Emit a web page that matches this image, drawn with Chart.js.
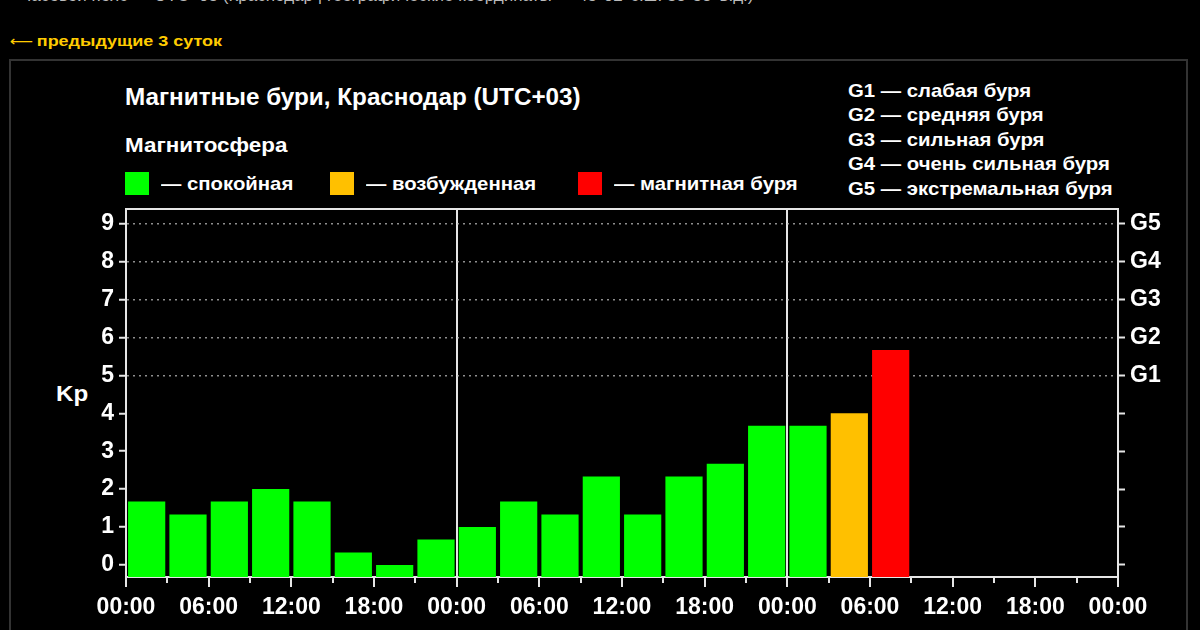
<!DOCTYPE html>
<html lang="ru">
  <head>
    <meta charset="UTF-8" />
    <title>Магнитные бури, Краснодар</title>
    <script src="https://cdn.jsdelivr.net/npm/chart.js"></script>
    <style>
      body {
        margin: 0;
        width: 1200px;
        height: 630px;
        overflow: hidden;
        position: relative;
        background: #000;
        color: #fff;
        font-family: "Liberation Sans", Arial, sans-serif;
        font-weight: bold;
      }
      .abs { position: absolute; line-height: 1; white-space: nowrap; transform-origin: left top; }
      .cut { left: 20px; top: -13px; font-size: 17px; color: #bbb; font-weight: normal; }
      .prev { left: 10px; top: 33px; font-size: 15.5px; color: #ffcc00; transform: scaleX(1.16); }
      .prev .arr { font-family: "DejaVu Sans", sans-serif; font-weight: normal; font-size: 14px; margin-right: 3px; }
      .box {
        position: absolute;
        left: 9px;
        top: 59px;
        width: 1175px;
        height: 620px;
        border: 2px solid #333;
      }
      .title { left: 125px; top: 86px; font-size: 23px; transform: scaleX(1.055); }
      .sub { left: 125px; top: 135px; font-size: 20px; transform: scaleX(1.12); }
      .leg { top: 172px; height: 23px; display: flex; align-items: center; font-size: 19px; }
      .leg span.t { display: inline-block; transform: scaleX(1.07); transform-origin: left center; }
      .sq { width: 24px; height: 23px; margin-right: 12px; }
      .storms { left: 848px; top: 79px; font-size: 19px; line-height: 24.4px; transform: scaleX(1.07); }
      .kp { left: 56px; top: 383px; font-size: 22px; transform: scaleX(1.1); }
      #wrap { position: absolute; left: 0; top: 190px; width: 1200px; height: 440px; }
    </style>
  </head>
  <body>
    <div class="abs cut">Часовой пояс — UTC+03 (Краснодар | географические координаты — 45°02′ с.ш. 38°58′ в.д.)</div>
    <div class="abs prev"><span class="arr">⟵</span>предыдущие 3 суток</div>
    <div class="box"></div>

    <div class="abs title">Магнитные бури, Краснодар (UTC+03)</div>
    <div class="abs sub">Магнитосфера</div>
    <div class="abs leg" style="left: 125px"><span class="sq" style="background: #00ff00"></span><span class="t">— спокойная</span></div>
    <div class="abs leg" style="left: 330px"><span class="sq" style="background: #ffc000"></span><span class="t">— возбужденная</span></div>
    <div class="abs leg" style="left: 578px"><span class="sq" style="background: #ff0000"></span><span class="t">— магнитная буря</span></div>

    <div class="abs storms">
      G1 — слабая буря<br />
      G2 — средняя буря<br />
      G3 — сильная буря<br />
      G4 — очень сильная буря<br />
      G5 — экстремальная буря
    </div>

    <div class="abs kp">Kp</div>

    <div id="wrap"><canvas id="kpChart" width="1200" height="440"></canvas></div>

    <script>
      // Kp по 3-часовым интервалам, три дня (третий день неполный)
      const slotHours = [
        1.5, 4.5, 7.5, 10.5, 13.5, 16.5, 19.5, 22.5,
        25.5, 28.5, 31.5, 34.5, 37.5, 40.5, 43.5, 46.5,
        49.5, 52.5, 55.5,
      ];
      const kpValues = [
        1.67, 1.33, 1.67, 2, 1.67, 0.33, 0, 0.67,
        1, 1.67, 1.33, 2.33, 1.33, 2.33, 2.67, 3.67,
        3.67, 4, 5.67,
      ];

      const xTickHours = [0, 3, 6, 9, 12, 15, 18, 21, 24, 27, 30, 33, 36, 39, 42, 45, 48, 51, 54, 57, 60, 63, 66, 69, 72];
      const xTickLabels = {
        0: "00:00", 6: "06:00", 12: "12:00", 18: "18:00",
        24: "00:00", 30: "06:00", 36: "12:00", 42: "18:00",
        48: "00:00", 54: "06:00", 60: "12:00", 66: "18:00", 72: "00:00",
      };
      const dayLines = [24, 48];

      const kpTicks = [0, 1, 2, 3, 4, 5, 6, 7, 8, 9];
      const stormLabels = { 5: "G1", 6: "G2", 7: "G3", 8: "G4", 9: "G5" };

      const Y_MIN = -0.32;
      const Y_MAX = 9.4;
      const LINE = "#e6e6e6";

      function kpColor(v) {
        if (v >= 5) return "#ff0000";
        if (v >= 4) return "#ffc000";
        return "#00ff00";
      }

      const tickFont = { family: "'Liberation Sans', Arial, sans-serif", size: 23, weight: "bold" };

      new Chart(document.getElementById("kpChart"), {
        type: "bar",
        data: {
          datasets: [
            {
              data: kpValues.map((v, i) => ({ x: slotHours[i], y: kpValues[i] })),
              backgroundColor: kpValues.map(kpColor),
              base: Y_MIN,
              categoryPercentage: 1,
              barPercentage: 0.9,
              borderWidth: 0,
            },
          ],
        },
        options: {
          responsive: false,
          animation: false,
          events: [],
          layout: { padding: { top: 17, left: 0, right: 0, bottom: 0 } },
          plugins: { legend: { display: false }, tooltip: { enabled: false } },
          scales: {
            x: {
              type: "linear",
              position: "bottom",
              min: 0,
              max: 72,
              offset: false,
              afterBuildTicks: (s) => { s.ticks = xTickHours.map((h) => ({ value: h })); },
              afterFit: (s) => { s.height = 53; },
              border: { display: true, color: LINE, width: 2 },
              grid: {
                offset: false,
                color: (c) => (c.tick && dayLines.includes(c.tick.value) ? LINE : "transparent"),
                lineWidth: 2,
                tickColor: LINE,
                tickWidth: 2,
                tickLength: 10,
                tickBorderDash: (c) => (c.tick && c.tick.value % 6 === 0 ? [] : [5, 30]),
              },
              ticks: {
                color: "#fff",
                font: tickFont,
                padding: 7,
                maxRotation: 0,
                autoSkip: false,
                callback: (v) => xTickLabels[v] || "",
              },
            },
            xTop: {
              type: "linear",
              position: "top",
              min: 0,
              max: 72,
              afterFit: (s) => { s.height = 0; },
              border: { display: true, color: LINE, width: 2 },
              grid: { drawOnChartArea: false, drawTicks: false },
              ticks: { display: false },
            },
            y: {
              position: "left",
              min: Y_MIN,
              max: Y_MAX,
              afterBuildTicks: (s) => { s.ticks = kpTicks.map((v) => ({ value: v })); },
              afterFit: (s) => { s.width = 126; },
              border: { display: true, color: LINE, width: 2, dash: [2, 4] },
              grid: {
                color: (c) => (c.tick && c.tick.value >= 5 ? "rgba(190,190,190,0.75)" : "transparent"),
                lineWidth: 1.5,
                tickColor: LINE,
                tickWidth: 2,
                tickLength: 7,
                tickBorderDash: [],
              },
              ticks: { color: "#fff", font: tickFont, padding: 5 },
            },
            y2: {
              position: "right",
              min: Y_MIN,
              max: Y_MAX,
              afterBuildTicks: (s) => { s.ticks = kpTicks.map((v) => ({ value: v })); },
              afterFit: (s) => { s.width = 82; },
              border: { display: true, color: LINE, width: 2 },
              grid: { drawOnChartArea: false, tickColor: LINE, tickWidth: 2, tickLength: 7 },
              ticks: {
                color: "#fff",
                font: tickFont,
                padding: 5,
                callback: (v) => stormLabels[v] || "",
              },
            },
          },
        },
      });
    </script>
  </body>
</html>
